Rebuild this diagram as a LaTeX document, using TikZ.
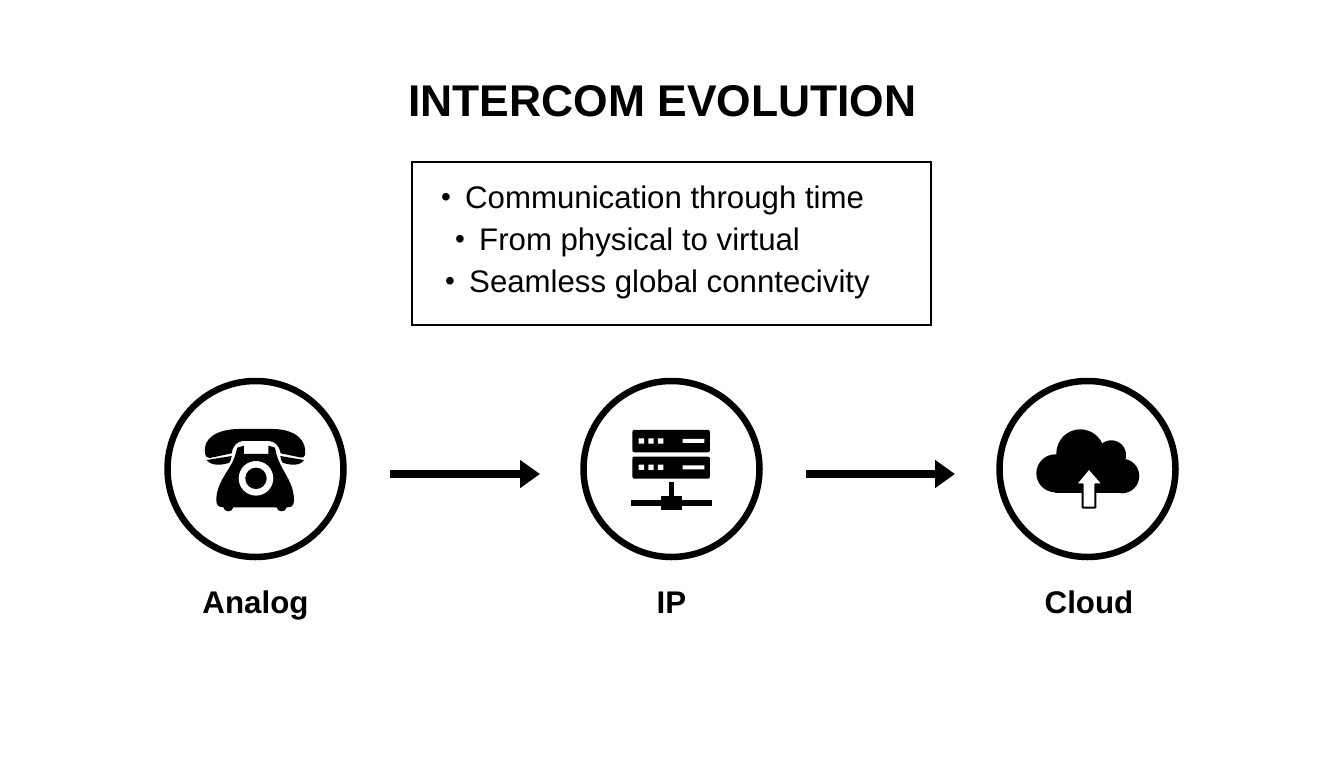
\documentclass[tikz,border=0pt]{standalone}
\usepackage{fontspec}
\setmainfont{Liberation Sans}
\usetikzlibrary{arrows.meta}
\newcommand{\bul}{\makebox[24pt][l]{\raisebox{1.2pt}{\fontsize{28}{30}\selectfont •}}}
\tikzset{
 ring/.style={circle,draw=black,line width=6.5pt,minimum size=176pt,inner sep=0pt},
 flow/.style={line width=7.5pt,-{Triangle[length=20pt,width=27pt]}},
 lab/.style={font=\fontsize{31.3}{36}\selectfont\bfseries,anchor=base},
 item/.style={font=\fontsize{31.2}{36}\selectfont,anchor=base west,inner sep=0pt},
}
\begin{document}
\begin{tikzpicture}[x=1pt,y=-1pt]
\useasboundingbox[fill=white] (0,0) rectangle (1344,768);
\node[font=\fontsize{44.4}{52}\selectfont\bfseries,anchor=base] (title) at (662.5,116) {INTERCOM EVOLUTION};
\node[draw=black,line width=2pt,minimum width=519pt,minimum height=163pt,inner sep=0pt] (box) at (671.25,243.25) {};
\node[item] (b1) at (441,208) {\bul Communication through time};
\node[item] (b2) at (455,250) {\bul From physical to virtual};
\node[item] (b3) at (445,292) {\bul Seamless global conntecivity};
\node[ring] (analog) at (255.5,469) {};
\node[ring] (ip) at (671.5,469) {};
\node[ring] (cloud) at (1087.5,469) {};
\coordinate (a1) at (390,474); \coordinate (a2) at (540,474);
\coordinate (a3) at (806,474); \coordinate (a4) at (955,474);
\draw[flow] (a1) -- (a2);
\draw[flow] (a3) -- (a4);
\node[lab] (l1) at (255.5,613) {Analog};
\node[lab] (l2) at (671.5,613) {IP};
\node[lab] (l3) at (1089,613) {Cloud};
% phone
\begin{scope}[shift={(160,375)},x=0.3333pt,y=-0.3333pt]
\fill (135,235) .. controls (128,190) and (170,163) .. (235,162) -- (340,162) .. controls (405,163) and (442,195) .. (435,240) .. controls (433,248) and (428,249) .. (420,247) -- (362,235) .. controls (358,212) and (345,198) .. (325,198) -- (250,198) .. controls (232,198) and (218,212) .. (215,235) -- (150,249) .. controls (142,250) and (137,245) .. (135,235) -- cycle;
\fill (140,255) -- (215,243) .. controls (214,252) and (212,258) .. (208,263) .. controls (190,270) and (155,275) .. (140,255) -- cycle;
\fill (432,255) -- (361,243) .. controls (362,252) and (364,258) .. (368,263) .. controls (386,270) and (420,275) .. (432,255) -- cycle;
\fill (232,218) -- (252,212) -- (252,237) -- (325,237) -- (325,212) -- (345,218) -- (350,240) .. controls (362,285) and (402,320) .. (402,375) .. controls (402,392) and (395,397) .. (382,397) -- (380,397) .. controls (378,413) and (352,413) .. (350,397) -- (220,397) .. controls (218,413) and (192,413) .. (190,397) .. controls (175,397) and (169,390) .. (169,375) .. controls (169,320) and (212,285) .. (226,240) -- cycle;
\fill[white] (288,310) circle[radius=17.3pt];
\fill (288,310) circle[radius=10.7pt];
\end{scope}
% server
\begin{scope}[shift={(575,375)},x=0.3333pt,y=-0.3333pt]
\fill[rounded corners=2pt] (172,165) rectangle (405,232);
\fill[rounded corners=2pt] (172,245) rectangle (405,311);
\fill[white] (191,190) rectangle (207,206) (220,190) rectangle (236,206) (249,190) rectangle (265,206) (323,192) rectangle (388,204);
\fill[white] (191,269) rectangle (207,285) (220,269) rectangle (236,285) (249,269) rectangle (265,285) (323,271) rectangle (388,283);
\fill (282,322) rectangle (298,365);
\fill (257,362) rectangle (322,405);
\fill (167,375) rectangle (412,392);
\end{scope}
% cloud
\begin{scope}[shift={(992,375)},x=0.3333pt,y=-0.3333pt]
\fill (190,295) circle[radius=19pt];
\fill (265,235) circle[radius=24pt];
\fill (358,240) circle[radius=14.7pt];
\fill (390,303) circle[radius=17.3pt];
\fill (190,270) rectangle (390,353);
\fill (250,240) rectangle (370,290);
\fill[white,draw=black,line width=2pt,line join=round] (291,280) -- (333,328) -- (310,328) -- (310,398) -- (272,398) -- (272,328) -- (251,328) -- cycle;
\end{scope}
\end{tikzpicture}
\end{document}
